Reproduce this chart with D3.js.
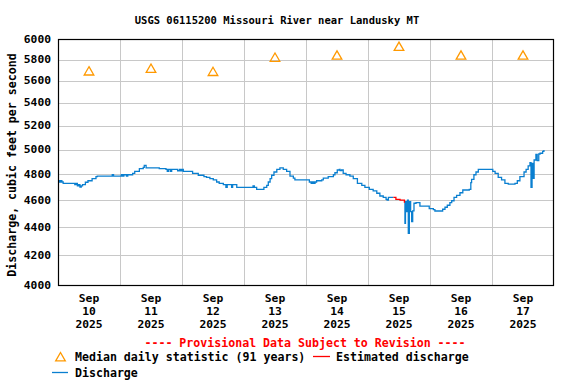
<!DOCTYPE html>
<html><head><meta charset="utf-8">
<script src="https://cdn.jsdelivr.net/npm/d3@7"></script>
<style>
html,body{margin:0;padding:0;background:#fff;}
svg{display:block;font-family:"DejaVu Sans Mono",monospace;font-weight:bold;}
</style></head>
<body><svg id="chart" width="576" height="384"></svg>
<script>
const title = "USGS 06115200 Missouri River near Landusky MT";
const yLabel = "Discharge, cubic feet per second";
const yTicks = [4000,4200,4400,4600,4800,5000,5200,5400,5600,5800,6000];
const dayLabels = ["10","11","12","13","14","15","16","17"];
const monthLabel = "Sep";
const yearLabel = "2025";
const medianValues = [5690,5715,5685,5820,5840,5925,5840,5840];
// hours since Sep 10 2025 00:00; null = gap (estimated period)
const dischargeHours = [0,0.5,1,1.5,2,5.5,6.5,7,7.5,8,8.5,9,9.5,10.6,11.6,13.2,14.7,15.2,20.5,21,21.5,23.7,24.5,25,25.5,26.5,27,28.9,29.7,31.5,33,33.4,34.1,37.9,39.2,41.8,42.3,42.8,43.5,44,45.7,46.3,47,47.5,48,48.5,51.8,52.1,54.3,56.5,57.5,58.8,60.1,61.4,62.4,64,65,65.5,66.8,67.2,67.6,68.5,69.2,75,75.5,76,76.9,79.2,79.7,80.8,81.4,82.1,82.7,83.6,84.7,85.9,87.2,88.5,89.8,91.1,91.7,96.3,97.3,98,98.5,99,99.5,100.1,102.1,102.7,104.6,106.6,107.2,108.1,108.9,109.2,109.8,110.4,111.5,113,114.3,115.9,117.6,118.8,120.5,122,123.4,124.6,125.9,127,127.4,127.9,129.8,131,134.1,134.3,134.5,135,135.3,135.6,136,136.5,136.9,137.3,137.8,138.6,140.1,143.3,143.7,145.3,145.9,148.5,148.9,149.8,150.7,151.7,152.4,153.3,154.3,155.6,156.7,159.2,159.8,160.1,161,161.8,162.7,167.5,168.3,169.2,170.4,171.7,173,174.3,176.9,177.8,178.8,180.4,181.2,182,182.7,183.1,183.5,184,184.3,185,185.5,186.1,186.6,187.6,188.1];
const dischargeValues = [4750,4740,4750,4740,4730,4730,4720,4730,4710,4720,4700,4710,4720,4738,4750,4766,4782,4787,4787,4797,4787,4787,4797,4787,4797,4787,4797,4808,4824,4845,4856,4872,4851,4851,4845,4840,4824,4840,4824,4840,4840,4829,4840,4829,4840,4824,4824,4808,4793,4782,4777,4766,4756,4740,4730,4719,4699,4719,4719,4699,4719,4719,4699,4699,4710,4699,4683,4683,4699,4714,4740,4766,4793,4819,4840,4851,4840,4824,4787,4771,4756,4756,4740,4730,4740,4730,4740,4750,4756,4771,4782,4797,4813,4835,4840,4830,4835,4808,4797,4787,4766,4730,4714,4699,4683,4672,4653,4632,4622,4607,4601,4622,4622,null,4581,4428,4590,4514,4600,4356,4590,4514,4440,4520,4577,4581,4556,4556,4536,4529,4519,4519,4532,4547,4562,4581,4596,4622,4637,4657,4678,4683,4735,4761,4797,4819,4840,4840,4824,4808,4777,4756,4730,4724,4730,4750,4782,4819,4840,4867,4893,4699,4888,4769,4915,4960,4910,4964,4970,4986,4997];
const estimatedHours = [129.8,130.8,132.4,133.7,134.1];
const estimatedValues = [4622,4607,4601,4601,4581];
const provisionalText = "---- Provisional Data Subject to Revision ----";
const legendMedian = "Median daily statistic (91 years)";
const legendEstimated = "Estimated discharge";
const legendDischarge = "Discharge";

const start = Date.UTC(2025,8,10);
const toDate = h => new Date(start + h*3600e3);
const svg = d3.select("#chart");
const L=58, R=554, T=39, B=285;
const x = d3.scaleUtc().domain([toDate(0), toDate(192)]).range([L,R]);
const y = d3.scaleLog().domain([4000,6000]).range([B,T]);
const blue = "#0a7fd0", red = "#ff0000", orange = "#ff9900";

svg.append("text").attr("x",277).attr("y",20).attr("text-anchor","middle")
  .attr("dominant-baseline","central").style("font-size","10.5px").text(title);

const grid = svg.append("g").attr("stroke","#c8c8c8").attr("stroke-width",1);
yTicks.slice(1,-1).forEach(v=>{
  const yy = Math.round(y(v))+0.5;
  grid.append("line").attr("x1",L).attr("x2",R).attr("y1",yy).attr("y2",yy);
});
d3.range(1,8).forEach(d=>{
  const xx = Math.round(x(toDate(d*24)))+0.5;
  grid.append("line").attr("x1",xx).attr("x2",xx).attr("y1",T).attr("y2",B);
});

svg.append("g").selectAll("text").data(yTicks).join("text")
  .attr("x",51).attr("y",d=>y(d)).attr("text-anchor","end")
  .attr("dominant-baseline","central").style("font-size","11.3px").text(d=>d);
svg.append("text").attr("transform","translate(12,165) rotate(-90)")
  .attr("text-anchor","middle").attr("dominant-baseline","central")
  .style("font-size","11.6px").text(yLabel);

const xl = svg.append("g").style("font-size","11.3px").attr("text-anchor","middle");
dayLabels.forEach((lab,i)=>{
  const xx = x(toDate(i*24+12));
  [monthLabel, lab, yearLabel].forEach((t,j)=>{
    xl.append("text").attr("x",xx).attr("y",298+j*13).attr("dominant-baseline","central").text(t);
  });
});

const disc = dischargeHours.map((h,i)=>({h,v:dischargeValues[i]}));
const est = estimatedHours.map((h,i)=>({h,v:estimatedValues[i]}));
const line = d3.line().defined(d=>d.v!=null).curve(d3.curveStepAfter)
  .x(d=>x(toDate(d.h))).y(d=>y(d.v));
svg.append("path").datum(disc).attr("d",line).attr("fill","none").attr("stroke",blue).attr("stroke-width",1.3);
svg.append("path").datum(est).attr("d",line).attr("fill","none").attr("stroke",red).attr("stroke-width",1.3);

const tri = (cx,cy)=>`M${cx},${cy-4.5}L${cx+4.8},${cy+3.8}L${cx-4.8},${cy+3.8}Z`;
svg.append("g").selectAll("path").data(medianValues).join("path")
  .attr("d",(d,i)=>tri(x(toDate(i*24+12)), y(d)))
  .attr("fill","none").attr("stroke",orange).attr("stroke-width",1.3);

svg.append("rect").attr("x",L+0.5).attr("y",T+0.5).attr("width",R-L-1).attr("height",B-T)
  .attr("fill","none").attr("stroke","#000").attr("stroke-width",1.2);

svg.append("text").attr("x",305).attr("y",343).attr("text-anchor","middle")
  .attr("dominant-baseline","central").attr("fill",red).style("font-size","11.6px").text(provisionalText);

const lg = svg.append("g").style("font-size","11.6px");
lg.append("path").attr("d",tri(60.5,357)).attr("fill","none").attr("stroke",orange).attr("stroke-width",1.3);
lg.append("text").attr("x",75).attr("y",357).attr("dominant-baseline","central").text(legendMedian);
lg.append("line").attr("x1",313).attr("x2",330).attr("y1",356.5).attr("y2",356.5).attr("stroke",red).attr("stroke-width",1.3);
lg.append("text").attr("x",336).attr("y",357).attr("dominant-baseline","central").text(legendEstimated);
lg.append("line").attr("x1",52).attr("x2",68).attr("y1",372.5).attr("y2",372.5).attr("stroke",blue).attr("stroke-width",1.3);
lg.append("text").attr("x",75).attr("y",373).attr("dominant-baseline","central").text(legendDischarge);
</script></body></html>
